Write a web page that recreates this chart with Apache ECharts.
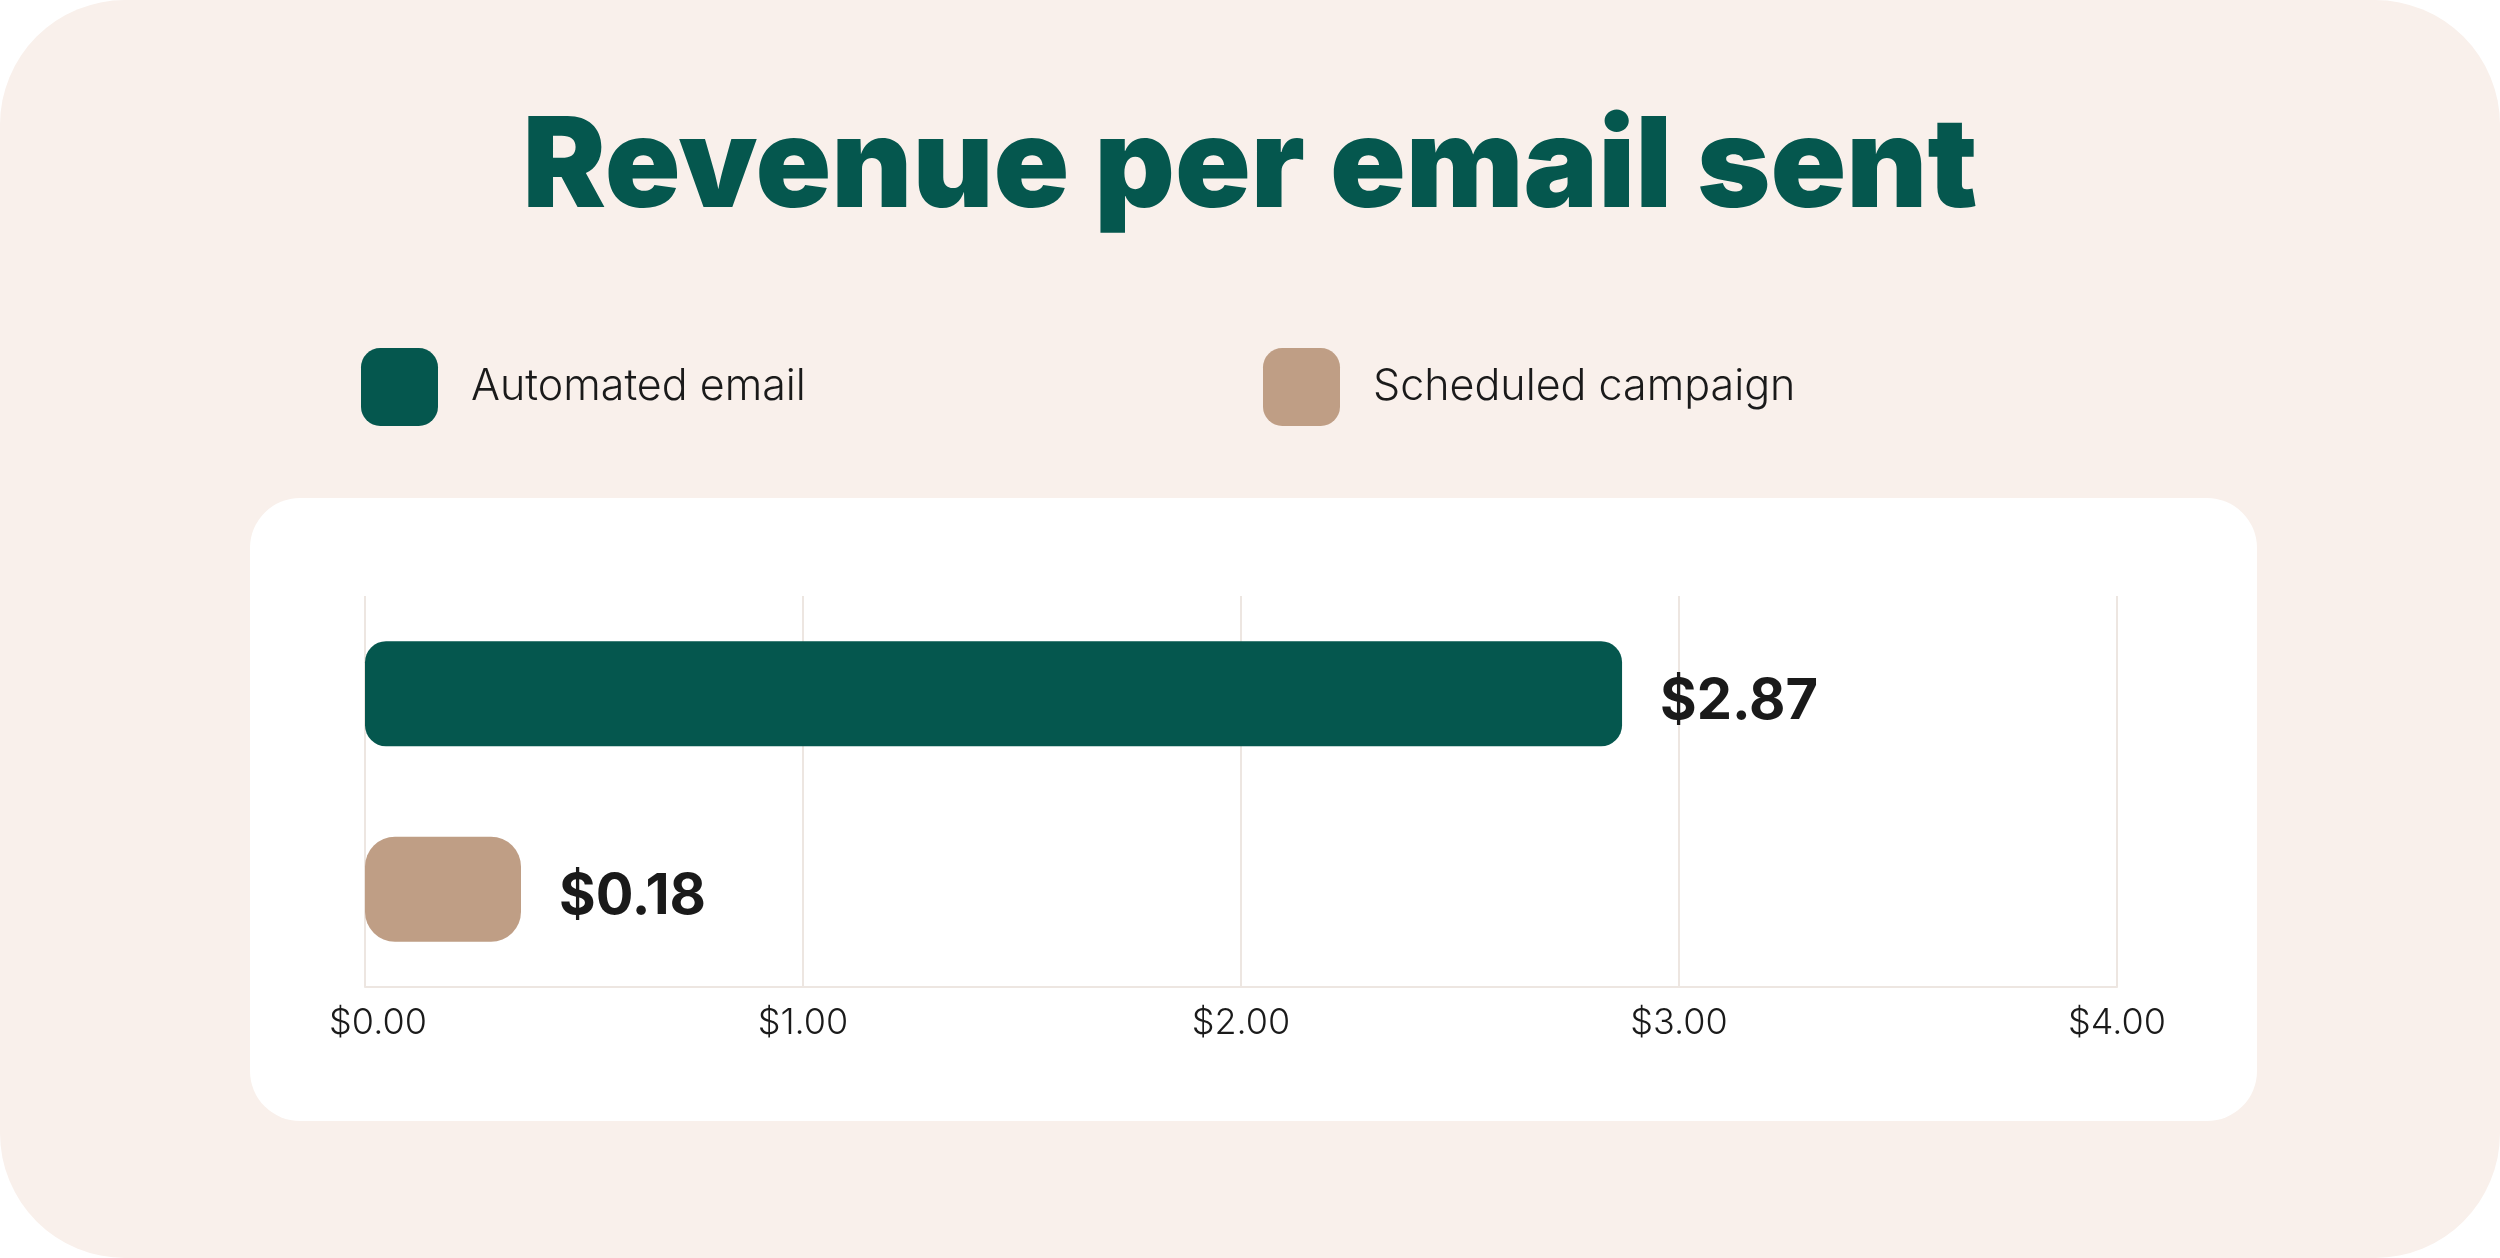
<!DOCTYPE html>
<html>
<head>
<meta charset="utf-8">
<script src="https://cdn.jsdelivr.net/npm/echarts@6/dist/echarts.min.js"></script>
<style>
  html, body { margin: 0; padding: 0; background: #ffffff; }
  #card { width: 2500px; height: 1258px; border-radius: 125px; background: #f9f0eb; overflow: hidden; }
  #chart { width: 2500px; height: 1258px; }
</style>
</head>
<body>
<div id="card"><div id="chart"></div></div>
<script>
const titleText = 'Revenue per email sent';
const categories = ['Automated email', 'Scheduled campaign'];
const values = [2.87, 0.18];
const tickValues = [0, 1, 2, 3, 4];
const seriesColors = ['#05574e', '#bf9e85'];

const fmt = v => '$' + Number(v).toFixed(2);

const chart = echarts.init(document.getElementById('chart'), null, { renderer: 'canvas' });

const series = categories.map((name, i) => ({
  name: name,
  type: 'bar',
  data: categories.map((c, j) => (j === i ? values[j] : '-')),
  barWidth: 105,
  barGap: '-100%',
  barMinHeight: i === 1 ? 156 : 0,
  itemStyle: { color: seriesColors[i], borderRadius: i === 1 ? 30 : 21 },
  label: {
    show: true,
    position: 'right',
    distance: 38,
    offset: [0, 8],
    formatter: p => fmt(p.value),
    fontFamily: 'Inter',
    fontWeight: 700,
    fontSize: 56,
    color: '#1a1a1a'
  },
  emphasis: { disabled: true }
}));

const option = {
  backgroundColor: 'transparent',
  animation: false,
  title: {
    text: titleText,
    left: 'center',
    top: 107,
    padding: 0,
    textStyle: { fontFamily: 'Inter', fontWeight: 900, fontSize: 125, color: '#05574e' }
  },
  legend: categories.map((name, i) => ({
    data: [name],
    left: i === 0 ? 361 : 1263,
    top: 348,
    padding: 0,
    itemWidth: 77,
    itemHeight: 78,
    icon: 'roundRect',
    selectedMode: false,
    textStyle: { fontFamily: 'Inter', fontWeight: 300, fontSize: 43, color: '#1a1a1a', padding: [0, 0, 0, 28] }
  })),
  graphic: [{
    type: 'rect',
    z: -100,
    silent: true,
    shape: { x: 250, y: 498, width: 2007, height: 623, r: 50 },
    style: { fill: '#ffffff' }
  }],
  grid: { left: 365, right: 383, top: 596, bottom: 271, containLabel: false },
  xAxis: {
    type: 'value',
    min: tickValues[0],
    max: tickValues[tickValues.length - 1],
    interval: 1,
    axisLine: { show: true, lineStyle: { color: '#ede6e1', width: 2 } },
    axisTick: { show: false },
    splitLine: { show: true, lineStyle: { color: '#ede6e1', width: 2 } },
    axisLabel: {
      margin: 18,
      fontFamily: 'Inter',
      fontWeight: 300,
      fontSize: 36,
      color: '#1a1a1a',
      formatter: v => (v === 0 ? '{first|' + fmt(v) + '}' : fmt(v)),
      rich: { first: { padding: [0, 0, 0, 26], fontFamily: 'Inter', fontWeight: 300, fontSize: 36, color: '#1a1a1a' } }
    }
  },
  yAxis: {
    type: 'category',
    data: categories,
    inverse: true,
    axisLine: { show: false },
    axisTick: { show: false },
    axisLabel: { show: false },
    splitLine: { show: false }
  },
  series: series
};

chart.setOption(option);
</script>
</body>
</html>
